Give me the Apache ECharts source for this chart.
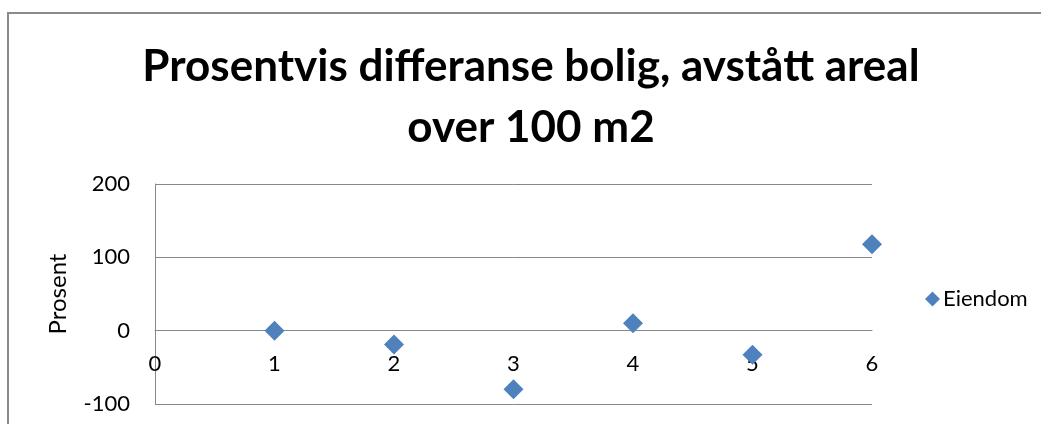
<!DOCTYPE html>
<html>
<head>
<meta charset="utf-8">
<script src="https://cdn.jsdelivr.net/npm/echarts@6/dist/echarts.min.js"></script>
<style>
html,body{margin:0;padding:0;background:#fff;}
#chart{width:1041px;height:424px;}
</style>
</head>
<body>
<div id="chart"></div>
<script>
const titleLines = ["Prosentvis differanse bolig, avstått areal", "over 100 m2"];
const seriesName = "Eiendom";
const yAxisName = "Prosent";
const xValues = [1, 2, 3, 4, 5, 6];
const yValues = [0, -19, -80, 10, -33, 118];
const xTicks = [0, 1, 2, 3, 4, 5, 6];
const yTicks = [-100, 0, 100, 200];

const FONT = "Lato";
const GRID = { left: 155, right: 169, top: 184, bottom: 20 };
const Y_MIN = -100, Y_MAX = 200;
const gridH = 424 - GRID.top - GRID.bottom;
// move the x axis (line + labels) up to y = 0, as in the original
const xAxisOffset = -gridH * (0 - Y_MIN) / (Y_MAX - Y_MIN);

const chart = echarts.init(document.getElementById('chart'));
const points = xValues.map((x, i) => [x, yValues[i]]);

chart.setOption({
  animation: false,
  backgroundColor: '#fff',
  textStyle: { fontFamily: FONT },
  graphic: [
    { type: 'rect', shape: { x: 8, y: 13, width: 1100, height: 500 },
      style: { fill: 'none', stroke: '#8a8a8a', lineWidth: 2 }, silent: true, z: -1 },
    { type: 'text', x: 531, y: 45,
      style: { text: titleLines[0], fontFamily: FONT, fontWeight: 'bold', fontSize: 44,
               fill: '#000', align: 'center', verticalAlign: 'top' } },
    { type: 'text', x: 531, y: 106,
      style: { text: titleLines[1], fontFamily: FONT, fontWeight: 'bold', fontSize: 44,
               fill: '#000', align: 'center', verticalAlign: 'top' } }
  ],
  legend: {
    data: [{ name: seriesName, icon: 'diamond' }],
    left: 920, top: 283,
    itemWidth: 15, itemHeight: 15, itemGap: 5,
    itemStyle: { color: '#4F81BD', opacity: 1 },
    textStyle: { fontFamily: FONT, fontSize: 22, color: '#000', padding: [0, 0, 0, -2] }
  },
  grid: Object.assign({ containLabel: false, outerBoundsMode: 'none' }, GRID),
  xAxis: {
    type: 'value', min: 0, max: 6, interval: 1,
    offset: xAxisOffset,
    axisLine: { onZero: false, lineStyle: { color: '#878787', width: 1 } },
    axisTick: { show: false },
    splitLine: { show: false },
    axisLabel: { color: '#000', fontFamily: FONT, fontSize: 22, margin: 22,
                 formatter: v => (xTicks.indexOf(v) >= 0 ? String(v) : '') }
  },
  yAxis: {
    type: 'value', min: Y_MIN, max: Y_MAX, interval: 100,
    name: yAxisName, nameLocation: 'middle', nameRotate: 90, nameGap: 85,
    nameTextStyle: { color: '#000', fontFamily: FONT, fontSize: 24 },
    axisLine: { show: true, lineStyle: { color: '#878787', width: 1 } },
    axisTick: { show: false },
    splitLine: { show: true, lineStyle: { color: '#878787', width: 1 } },
    axisLabel: { color: '#000', fontFamily: FONT, fontSize: 22, margin: 25,
                 formatter: v => (yTicks.indexOf(v) >= 0 ? String(v) : '') }
  },
  series: [{
    name: seriesName, type: 'scatter', data: points,
    symbol: 'diamond', symbolSize: 20,
    itemStyle: { color: '#4F81BD', opacity: 1 }
  }]
});
</script>
</body>
</html>
